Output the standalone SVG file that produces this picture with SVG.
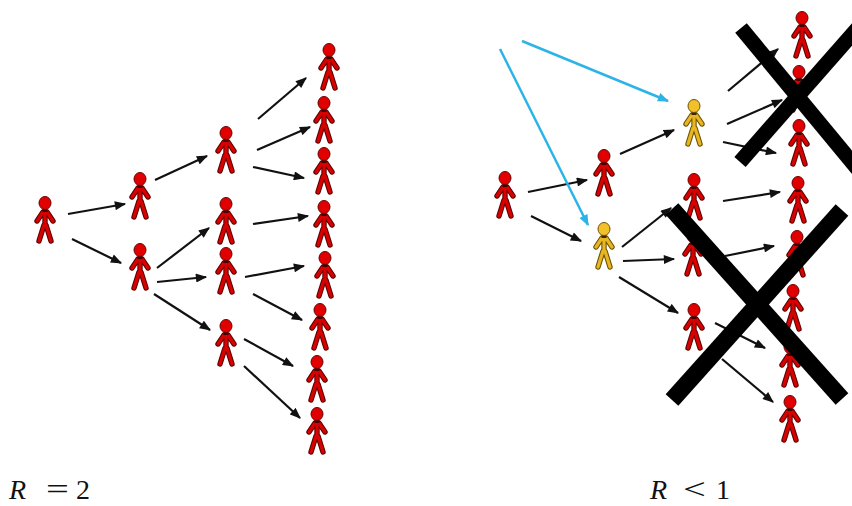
<svg xmlns="http://www.w3.org/2000/svg" xmlns:xlink="http://www.w3.org/1999/xlink" width="852" height="506" viewBox="0 0 852 506">
  <style>
    .edge { stroke: #111; stroke-width: 2.2; fill: none; }
    .blue { stroke: #2db4e6; stroke-width: 2.5; fill: none; }
    .cross { stroke: #000; stroke-width: 15; stroke-linecap: butt; }
    .lbl { font-family: "Liberation Serif", "DejaVu Serif", serif; font-size: 28px; fill: #111; }
    .op { font-family: "Liberation Serif", "DejaVu Serif", serif; font-size: 30px; fill: #111; }
  </style>
  <defs>
    <marker id="ah" viewBox="0 0 10 8" refX="9" refY="4" markerWidth="12" markerHeight="9" markerUnits="userSpaceOnUse" orient="auto">
      <path d="M0,0 L10,4 L0,8 z" fill="#111"/>
    </marker>
    <marker id="ahb" viewBox="0 0 10 8" refX="9" refY="4" markerWidth="12" markerHeight="9" markerUnits="userSpaceOnUse" orient="auto">
      <path d="M0,0 L10,4 L0,8 z" fill="#2db4e6"/>
    </marker>
    <!-- stick figure, origin at head centre -->
    <g id="red">
      <path d="M-8,18 L-2,9 L2,9 L8,18 M0,8 L0,23 M-6,38 L-1,22 L1,22 L6,38" stroke="#5c0000" stroke-width="5.4" stroke-linejoin="round" stroke-linecap="round" fill="none"/>
      <path d="M-8,18 L-2,9 L2,9 L8,18 M0,8 L0,23 M-6,38 L-1,22 L1,22 L6,38" stroke="#d90000" stroke-width="3.2" stroke-linejoin="round" stroke-linecap="round" fill="none"/>
      <rect x="-2.5" y="6" width="5" height="3" fill="#400000"/>
      <ellipse cx="0" cy="0" rx="6" ry="6.5" fill="#e00000" stroke="#6a0000" stroke-width="1"/>
    </g>
    <g id="yellow">
      <path d="M-8,18 L-2,9 L2,9 L8,18 M0,8 L0,23 M-6,38 L-1,22 L1,22 L6,38" stroke="#6e5200" stroke-width="5.4" stroke-linejoin="round" stroke-linecap="round" fill="none"/>
      <path d="M-8,18 L-2,9 L2,9 L8,18 M0,8 L0,23 M-6,38 L-1,22 L1,22 L6,38" stroke="#e8b622" stroke-width="3.2" stroke-linejoin="round" stroke-linecap="round" fill="none"/>
      <rect x="-2.5" y="6" width="5" height="3" fill="#3a2a00"/>
      <ellipse cx="0" cy="0" rx="6" ry="6.5" fill="#f2c028" stroke="#6e5200" stroke-width="1"/>
    </g>
  </defs>

  <!-- R = 2 tree -->
  <g id="l0"><use href="#red" x="45" y="203"/></g>
  <g id="l1a"><use href="#red" x="140" y="179"/></g>
  <g id="l1b"><use href="#red" x="140" y="250"/></g>
  <g id="l2a"><use href="#red" x="226" y="133"/></g>
  <g id="l2b"><use href="#red" x="226" y="204"/></g>
  <g id="l2c"><use href="#red" x="226" y="254"/></g>
  <g id="l2d"><use href="#red" x="226" y="326"/></g>
  <g id="l3a"><use href="#red" x="329" y="50"/></g>
  <g id="l3b"><use href="#red" x="324" y="103"/></g>
  <g id="l3c"><use href="#red" x="324" y="154"/></g>
  <g id="l3d"><use href="#red" x="324" y="207"/></g>
  <g id="l3e"><use href="#red" x="325" y="258"/></g>
  <g id="l3f"><use href="#red" x="320" y="310"/></g>
  <g id="l3g"><use href="#red" x="317" y="362"/></g>
  <g id="l3h"><use href="#red" x="317" y="414"/></g>

  <!-- R < 1 tree -->
  <g id="r0"><use href="#red" x="505" y="178"/></g>
  <g id="r1a"><use href="#red" x="604" y="156"/></g>
  <g id="r1b"><use href="#yellow" x="604" y="229"/></g>
  <g id="r2y"><use href="#yellow" x="694" y="106"/></g>
  <g id="r2a"><use href="#red" x="694" y="180"/></g>
  <g id="r2b"><use href="#red" x="693" y="236"/></g>
  <g id="r2c"><use href="#red" x="694" y="310"/></g>
  <g id="r3a"><use href="#red" x="802" y="18"/></g>
  <g id="r3b"><use href="#red" x="799" y="72"/></g>
  <g id="r3c"><use href="#red" x="799" y="126"/></g>
  <g id="r3d"><use href="#red" x="798" y="183"/></g>
  <g id="r3e"><use href="#red" x="797" y="237"/></g>
  <g id="r3f"><use href="#red" x="793" y="291"/></g>
  <g id="r3g"><use href="#red" x="790" y="347"/></g>
  <g id="r3h"><use href="#red" x="790" y="402"/></g>

  <g id="connectors">
    <!-- left tree -->
    <line class="edge" x1="68" y1="214" x2="125" y2="204" marker-end="url(#ah)"/>
    <line class="edge" x1="72" y1="239" x2="121" y2="263" marker-end="url(#ah)"/>
    <line class="edge" x1="155" y1="180" x2="207" y2="156" marker-end="url(#ah)"/>
    <line class="edge" x1="157" y1="268" x2="209" y2="228" marker-end="url(#ah)"/>
    <line class="edge" x1="157" y1="282" x2="206" y2="277" marker-end="url(#ah)"/>
    <line class="edge" x1="154" y1="294" x2="210" y2="330" marker-end="url(#ah)"/>
    <line class="edge" x1="258" y1="119" x2="306" y2="78" marker-end="url(#ah)"/>
    <line class="edge" x1="257" y1="150" x2="310" y2="127" marker-end="url(#ah)"/>
    <line class="edge" x1="253" y1="167" x2="304" y2="178" marker-end="url(#ah)"/>
    <line class="edge" x1="253" y1="224" x2="308" y2="216" marker-end="url(#ah)"/>
    <line class="edge" x1="245" y1="277" x2="304" y2="266" marker-end="url(#ah)"/>
    <line class="edge" x1="253" y1="294" x2="302" y2="320" marker-end="url(#ah)"/>
    <line class="edge" x1="244" y1="339" x2="293" y2="366" marker-end="url(#ah)"/>
    <line class="edge" x1="244" y1="366" x2="300" y2="418" marker-end="url(#ah)"/>
    <!-- right tree -->
    <line class="edge" x1="528" y1="192" x2="587" y2="180" marker-end="url(#ah)"/>
    <line class="edge" x1="531" y1="216" x2="581" y2="241" marker-end="url(#ah)"/>
    <line class="edge" x1="620" y1="154" x2="674" y2="130" marker-end="url(#ah)"/>
    <line class="edge" x1="728" y1="91" x2="778" y2="49" marker-end="url(#ah)"/>
    <line class="edge" x1="727" y1="124" x2="782" y2="100" marker-end="url(#ah)"/>
    <line class="edge" x1="723" y1="142" x2="776" y2="153" marker-end="url(#ah)"/>
    <line class="edge" x1="723" y1="201" x2="780" y2="192" marker-end="url(#ah)"/>
    <line class="edge" x1="622" y1="247" x2="671" y2="208" marker-end="url(#ah)"/>
    <line class="edge" x1="623" y1="261" x2="674" y2="259" marker-end="url(#ah)"/>
    <line class="edge" x1="619" y1="277" x2="678" y2="313" marker-end="url(#ah)"/>
    <line class="edge" x1="725" y1="256" x2="774" y2="246" marker-end="url(#ah)"/>
    <line class="edge" x1="715" y1="323" x2="765" y2="348" marker-end="url(#ah)"/>
    <line class="edge" x1="722" y1="359" x2="773" y2="402" marker-end="url(#ah)"/>
    <!-- intervention arrows -->
    <line class="blue" x1="522" y1="41" x2="668" y2="101" marker-end="url(#ahb)"/>
    <line class="blue" x1="500" y1="49" x2="588" y2="225" marker-end="url(#ahb)"/>
  </g>

  <!-- crossed-out branches -->
  <g id="cross-top">
    <line class="cross" x1="741" y1="28" x2="870" y2="184"/>
    <line class="cross" x1="740" y1="162" x2="870" y2="14"/>
  </g>
  <g id="cross-bottom">
    <line class="cross" x1="672" y1="209" x2="842" y2="399" style="stroke-width:17"/>
    <line class="cross" x1="672" y1="400" x2="842" y2="210" style="stroke-width:17"/>
  </g>

  <!-- labels -->
  <text class="lbl" x="9" y="499" font-style="italic">R</text>
  <text class="op" transform="translate(46,499) scale(1.35,1)">=</text>
  <text class="lbl" x="76" y="499">2</text>
  <text class="lbl" x="650" y="499" font-style="italic">R</text>
  <text class="op" transform="translate(683,499) scale(1.35,1)">&lt;</text>
  <text class="lbl" x="716" y="499">1</text>
</svg>
